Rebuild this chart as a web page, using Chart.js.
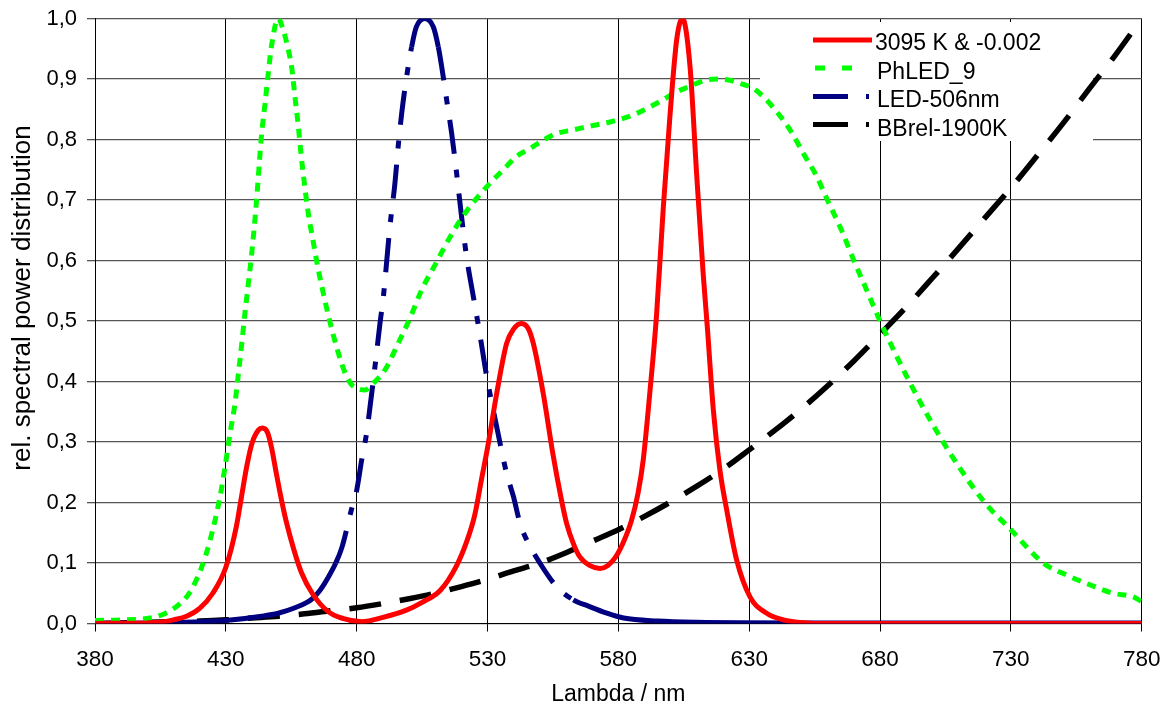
<!DOCTYPE html>
<html><head><meta charset="utf-8">
<script src="https://cdn.jsdelivr.net/npm/chart.js@4.4.0/dist/chart.umd.min.js"></script>
<style>html,body{margin:0;padding:0;background:#fff;} canvas{display:block;}</style>
</head><body>
<canvas id="c" width="1168" height="709"></canvas>
<script>
const xTicks = [380, 430, 480, 530, 580, 630, 680, 730, 780];
const yTicks = [0, 0.1, 0.2, 0.3, 0.4, 0.5, 0.6, 0.7, 0.8, 0.9, 1.0];
const yTickLabels = ['0,0','0,1','0,2','0,3','0,4','0,5','0,6','0,7','0,8','0,9','1,0'];
const seriesNames = ['3095 K & -0.002', 'PhLED_9', 'LED-506nm', 'BBrel-1900K'];
const xTitle = 'Lambda / nm';
const yTitle = 'rel. spectral power distribution';

const redNm = [380,400,405,410,415,420,425,430,434,436,438,440,442.5,444,446,447.5,449,451,453,456,459,463,469,475,482,490,499,505,512,518,522,525,528,530,533.5,537.3,540,543,545.5,547.5,551.3,555,558,560.2,563,565.3,569,573,576,579,582,585,587.5,589.5,592,594.6,597.2,599.7,602.3,604.5,607.4,609.9,612.4,614,616.3,618.8,621.4,625.2,630.3,636.7,643,652,660,700,780];
const redVal = [0,0.001,0.002,0.006,0.012,0.025,0.05,0.093,0.16,0.21,0.26,0.298,0.32,0.323,0.315,0.29,0.255,0.21,0.17,0.122,0.083,0.05,0.02,0.008,0.003,0.01,0.022,0.035,0.055,0.094,0.135,0.177,0.245,0.29,0.38,0.463,0.487,0.496,0.488,0.463,0.38,0.28,0.21,0.166,0.13,0.11,0.096,0.091,0.096,0.11,0.135,0.17,0.215,0.27,0.38,0.51,0.689,0.838,0.965,1.0,0.92,0.744,0.579,0.49,0.353,0.254,0.188,0.105,0.044,0.017,0.006,0.001,0,0,0];

const greenNm = [380,390,401,407,412.5,416,420.5,424,427.8,429.7,431.6,433.5,434.8,436.1,437.3,438.6,439.9,441.1,442,442.8,443.7,445,446.2,447.5,450,452,453.9,455.2,456.4,457.7,458.7,460,461.5,463.4,465.1,467.4,469.8,473,475.5,478,480,483.2,486.3,490.8,495.3,500.4,504.8,510.6,515.7,521.4,525.9,531,536,541.1,546.2,551.3,556.4,562.8,569.2,576.8,581.9,587,592.1,597.2,602.3,607.4,612.4,617.5,622.6,627.7,631.5,636,640.5,645.6,650.7,655.8,660.2,665.3,670,675,680,690,700,710,720,730,742.4,751.3,760.2,769.1,776.8,780];
const greenVal = [0.005,0.006,0.009,0.017,0.033,0.05,0.09,0.138,0.21,0.259,0.314,0.364,0.413,0.463,0.513,0.562,0.612,0.667,0.714,0.761,0.81,0.86,0.909,0.956,1.0,0.98,0.948,0.918,0.871,0.822,0.777,0.728,0.678,0.631,0.59,0.543,0.498,0.447,0.415,0.395,0.389,0.386,0.397,0.419,0.458,0.505,0.551,0.598,0.639,0.678,0.703,0.728,0.75,0.772,0.785,0.799,0.81,0.816,0.822,0.829,0.835,0.843,0.854,0.866,0.879,0.888,0.897,0.9,0.898,0.891,0.885,0.868,0.846,0.816,0.777,0.739,0.697,0.65,0.60,0.55,0.50,0.41,0.33,0.26,0.20,0.155,0.10,0.08,0.064,0.05,0.044,0.036];

const blueNm = [380,400,420,430,443.7,450,456.4,462.8,466,469.2,472,474.3,478.1,480,481.9,483.8,485.1,486.3,487.6,488.9,490.2,492.7,494.6,495.9,497.2,499.1,501,502.8,506,509.3,511.2,512.5,514.4,516.3,518.2,520.1,522,524.6,527,529.7,532.2,534.8,537.3,539.9,542.4,545,550,556.4,562.8,569,575,582,595,610,650,700,780];
const blueVal = [0,0.001,0.003,0.005,0.012,0.017,0.026,0.04,0.055,0.077,0.1,0.125,0.19,0.22,0.27,0.315,0.358,0.4,0.447,0.496,0.54,0.656,0.727,0.79,0.843,0.904,0.953,0.986,1.0,0.986,0.953,0.92,0.865,0.81,0.744,0.672,0.606,0.54,0.48,0.408,0.353,0.298,0.248,0.21,0.166,0.138,0.1,0.061,0.039,0.028,0.018,0.009,0.004,0.002,0.001,0.001,0.001];

const blackNm = [380,390,400,410,420,430,440,450,460,470,480,490,500,510,520,530,540,550,560,570,580,590,600,610,620,630,640,650,660,670,680,690,700,710,720,730,740,750,760,770,780];
const blackVal = [0.0,0.001,0.002,0.003,0.004,0.006,0.009,0.012,0.016,0.021,0.026,0.033,0.041,0.05,0.061,0.073,0.087,0.1,0.117,0.136,0.155,0.177,0.201,0.227,0.255,0.287,0.32,0.355,0.393,0.434,0.478,0.523,0.571,0.62,0.67,0.72,0.773,0.827,0.884,0.94,1.0];

const FONT = "'Liberation Sans', Arial, sans-serif";
Chart.defaults.font.family = FONT;
Chart.defaults.color = '#000';

function pts(xs, ys) { return xs.map((x, i) => ({ x: x, y: ys[i] })); }

const styles = [
  { color: '#FF0000', dash: [], width: 5 },
  { color: '#00FF00', dash: [9, 7], width: 5 },
  { color: '#000080', dash: [34, 16, 8, 16], width: 5 },
  { color: '#000000', dash: [32, 19], width: 5.5 }
];
const seriesData = [pts(redNm, redVal), pts(greenNm, greenVal), pts(blueNm, blueVal), pts(blackNm, blackVal)];

// blue: dashed only on its steep flanks, solid on the flat tails and top
function blueSegDash(ctx) {
  const x0 = ctx.p0.parsed.x;
  if ((x0 >= 470 && x0 < 501) || (x0 >= 511 && x0 < 562)) return styles[2].dash;
  return [];
}

function noPad(s) { s.paddingTop = 0; s.paddingBottom = 0; s.paddingLeft = 0; s.paddingRight = 0; }

const decor = {
  id: 'decor',
  beforeDatasetsDraw(chart) {
    const ctx = chart.ctx;
    ctx.save();
    ctx.fillStyle = '#fff';
    ctx.fillRect(760, 22, 333, 119);
    ctx.restore();
  },
  afterDraw(chart) {
    const ctx = chart.ctx;
    ctx.save();
    ctx.font = '26px ' + FONT;
    ctx.fillStyle = '#000';
    ctx.translate(23, 298);
    ctx.rotate(-Math.PI / 2);
    ctx.textAlign = 'center';
    ctx.textBaseline = 'middle';
    ctx.fillText(yTitle, 0, 0);
    ctx.restore();

    ctx.save();
    ctx.font = '23px ' + FONT;
    ctx.fillStyle = '#000';
    ctx.textBaseline = 'alphabetic';
    ctx.textAlign = 'left';
    const base = [50, 78.5, 107, 135.5];
    const lineY = [40, 68, 96.5, 124.5];
    for (let i = 0; i < 4; i++) {
      ctx.strokeStyle = styles[i].color;
      ctx.lineWidth = 5;
      ctx.lineCap = 'butt';
      ctx.beginPath();
      if (i === 0) {
        ctx.setLineDash([]);
        ctx.moveTo(813, lineY[i]); ctx.lineTo(872, lineY[i]);
      } else if (i === 1) {
        ctx.setLineDash([10, 17]);
        ctx.moveTo(815, lineY[i]); ctx.lineTo(860, lineY[i]);
      } else {
        ctx.setLineDash([35, 18, 3, 100]);
        ctx.moveTo(813, lineY[i]); ctx.lineTo(872, lineY[i]);
      }
      ctx.stroke();
      ctx.fillText(seriesNames[i], i === 0 ? 875 : 877, base[i]);
    }
    ctx.restore();
  }
};

new Chart(document.getElementById('c'), {
  type: 'line',
  data: {
    datasets: seriesNames.map((name, i) => ({
      label: name,
      data: seriesData[i],
      borderColor: styles[i].color,
      backgroundColor: styles[i].color,
      borderWidth: styles[i].width,
      borderDash: styles[i].dash,
      borderCapStyle: 'butt',
      pointRadius: 0,
      fill: false,
      cubicInterpolationMode: 'monotone',
      segment: i === 2 ? { borderDash: blueSegDash } : undefined
    }))
  },
  options: {
    responsive: false,
    animation: false,
    devicePixelRatio: 1,
    layout: { padding: { top: 18.5, right: 26.3, left: 0, bottom: 0 } },
    plugins: { legend: { display: false }, tooltip: { enabled: false } },
    scales: {
      x: {
        type: 'linear', min: 380, max: 780,
        afterBuildTicks: s => { s.ticks = xTicks.map(v => ({ value: v })); },
        afterFit: s => { s.height = 85.5; noPad(s); },
        ticks: { font: { size: 22.5 }, padding: 15, maxRotation: 0, autoSkip: false, color: '#000' },
        grid: { color: '#000', lineWidth: 1, tickLength: 8 },
        border: { color: '#000', width: 1 },
        title: { display: true, text: xTitle, font: { size: 23 }, padding: { top: 0, bottom: 1 }, color: '#000' }
      },
      y: {
        type: 'linear', min: 0, max: 1,
        afterBuildTicks: s => { s.ticks = yTicks.map(v => ({ value: v })); },
        afterFit: s => { s.width = 95; noPad(s); },
        ticks: { font: { size: 22 }, padding: 10, color: '#000',
          callback: (v, i) => yTickLabels[i] },
        grid: { color: '#555', lineWidth: 1.3, tickLength: 8 },
        border: { color: '#000', width: 1 },
        title: { display: false }
      }
    }
  },
  plugins: [decor]
});
</script>
</body></html>
